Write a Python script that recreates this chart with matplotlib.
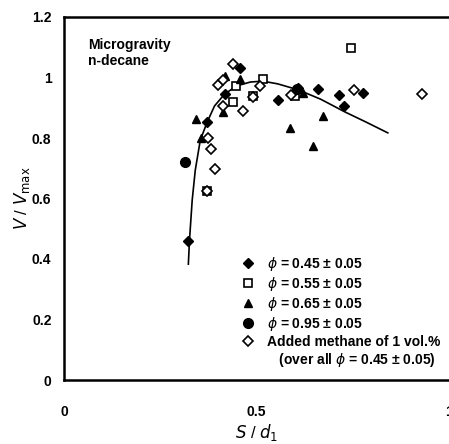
import numpy as np
import matplotlib
matplotlib.use('Agg')
import matplotlib.pyplot as plt

plt.rcParams['font.family'] = ['Liberation Sans', 'DejaVu Sans']
plt.rcParams['mathtext.fontset'] = 'dejavusans'

# phi = 0.45 +- 0.05 (filled diamonds)
x_045 = [0.456, 0.417, 0.372, 0.557, 0.609, 0.661, 0.714, 0.776, 0.727, 0.323]
y_045 = [1.031, 0.945, 0.853, 0.926, 0.965, 0.962, 0.942, 0.949, 0.906, 0.460]

# phi = 0.55 +- 0.05 (open squares)
x_055 = [0.745, 0.516, 0.448, 0.438, 0.490, 0.599, 0.372]
y_055 = [1.098, 0.995, 0.972, 0.919, 0.939, 0.939, 0.625]

# phi = 0.65 +- 0.05 (filled triangles)
x_065 = [0.417, 0.458, 0.414, 0.344, 0.357, 0.586, 0.672, 0.646, 0.620]
y_065 = [1.005, 0.995, 0.886, 0.863, 0.800, 0.833, 0.873, 0.774, 0.949]

# phi = 0.95 +- 0.05 (filled circles)
x_095 = [0.313, 0.604]
y_095 = [0.721, 0.962]

# added methane (open diamonds)
x_meth = [0.440, 0.401, 0.414, 0.414, 0.466, 0.508, 0.492, 0.589, 0.753, 0.930,
          0.375, 0.383, 0.391, 0.372]
y_meth = [1.045, 0.975, 0.992, 0.906, 0.889, 0.972, 0.936, 0.942, 0.959, 0.945,
          0.800, 0.764, 0.698, 0.625]

# fitted curve
x_fit = [0.323, 0.326, 0.333, 0.341, 0.354, 0.372, 0.391, 0.417, 0.448, 0.484,
         0.516, 0.555, 0.609, 0.667, 0.730, 0.784, 0.841]
y_fit = [0.383, 0.463, 0.595, 0.694, 0.793, 0.853, 0.906, 0.945, 0.972, 0.985,
         0.988, 0.979, 0.959, 0.928, 0.886, 0.853, 0.817]

fig = plt.figure(figsize=(4.49, 4.44), dpi=100)
ax = fig.add_axes([64 / 449, 64 / 444, 385 / 449, 363 / 444])

ax.plot(x_fit, y_fit, color='black', lw=1.2, zorder=1)

ms = 6
ax.plot(x_045, y_045, 'D', color='black', ms=ms - 1, ls='none',
        label=r'$\phi$ = 0.45 ± 0.05')
ax.plot(x_055, y_055, 's', mfc='white', mec='black', mew=1.2, ms=ms, ls='none',
        label=r'$\phi$ = 0.55 ± 0.05')
ax.plot(x_065, y_065, '^', color='black', ms=ms, ls='none',
        label=r'$\phi$ = 0.65 ± 0.05')
ax.plot(x_095, y_095, 'o', color='black', ms=ms + 1, ls='none',
        label=r'$\phi$ = 0.95 ± 0.05')
ax.plot(x_meth, y_meth, 'D', mfc='white', mec='black', mew=1.2, ms=ms - 1, ls='none',
        label='Added methane of 1 vol.%')
# continuation line of the last legend entry
ax.plot([], [], ls='none', label='   (over all $\\phi$ = 0.45 ± 0.05)')

ax.set_xlim(0, 1)
ax.set_ylim(0, 1.2)
ax.set_xticks([0, 0.5, 1])
ax.set_xticklabels(['0', '0.5', '1'])
ax.set_yticks([0, 0.2, 0.4, 0.6, 0.8, 1.0, 1.2])
ax.set_yticklabels(['0', '0.2', '0.4', '0.6', '0.8', '1', '1.2'])
ax.tick_params(axis='both', length=0, labelsize=10)
ax.tick_params(axis='x', pad=18)
ax.tick_params(axis='y', pad=9)
for lbl in ax.get_xticklabels() + ax.get_yticklabels():
    lbl.set_fontweight('bold')

for side in ['left', 'bottom', 'top']:
    ax.spines[side].set_linewidth(1.8)
ax.spines['right'].set_visible(False)

ax.set_xlabel(r'$\mathit{S}$ / $\mathit{d}_{\mathit{1}}$', fontsize=12, labelpad=2)
ax.set_ylabel(r'$\mathit{V}$ / $\mathit{V}_{\mathrm{max}}$', fontsize=12, labelpad=0)

ax.text(0.062, 1.13, 'Microgravity\nn-decane', fontsize=10, fontweight='bold',
        va='top', ha='left', linespacing=1.2)

leg = ax.legend(loc='lower left', bbox_to_anchor=(0.445, 0.015), frameon=False,
                prop={'size': 10, 'weight': 'bold'}, handlelength=1.0,
                handletextpad=0.9, labelspacing=0.15, borderaxespad=0)

fig.savefig('out.png', dpi=100)
